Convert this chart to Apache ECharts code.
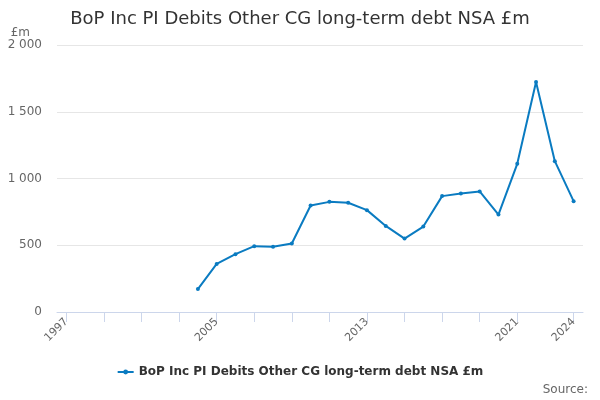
<!DOCTYPE html>
<html>
<head>
<meta charset="utf-8">
<script src="https://cdn.jsdelivr.net/npm/echarts@6/dist/echarts.min.js"></script>
<style>html,body{margin:0;padding:0;background:#fff}#c{width:600px;height:400px}</style>
</head>
<body>
<div id="c"></div>
<script>
const years = ['1997','1998','1999','2000','2001','2002','2003','2004','2005','2006','2007','2008','2009','2010','2011','2012','2013','2014','2015','2016','2017','2018','2019','2020','2021','2022','2023','2024'];
const values = [null,null,null,null,null,null,null,172,360,433,493,488,513,798,825,818,763,645,550,640,868,888,903,730,1110,1723,1130,830];
const labelYears = ['1997','2005','2013','2021','2024'];
const tickYears = ['1997','1999','2001','2003','2005','2007','2009','2011','2013','2015','2017','2019','2021','2024'];
const seriesName = 'BoP Inc PI Debits Other CG long-term debt NSA £m';

const chart = echarts.init(document.getElementById('c'), null, {renderer:'canvas'});
const font = 'DejaVu Sans, sans-serif';
chart.setOption({
  animation:false,
  textStyle:{fontFamily:font},
  title:{text:seriesName,left:'center',top:5,textStyle:{fontFamily:font,fontSize:18,fontWeight:'normal',color:'#333'}},
  grid:{left:57,right:17,top:45,bottom:88},
  legend:{bottom:17,left:'center',itemWidth:16,itemHeight:6,itemGap:5,
    textStyle:{fontFamily:font,fontSize:12,fontWeight:'bold',color:'#333'},data:[seriesName]},
  graphic:[{type:'text',right:12,top:384,style:{text:'Source:',fill:'#666',font:'12px DejaVu Sans, sans-serif'}}],
  xAxis:{type:'category',data:years,boundaryGap:true,
    axisLine:{show:true,lineStyle:{color:'#ccd6eb',width:1}},
    axisTick:{show:true,alignWithLabel:true,length:10,lineStyle:{color:'#ccd6eb',width:1},interval:function(i,v){return tickYears.indexOf(String(v))>=0;}},
    axisLabel:{rotate:45,color:'#666',fontSize:11,fontFamily:font,margin:8,interval:function(i,v){return labelYears.indexOf(String(v))>=0;}},
    splitLine:{show:false}},
  yAxis:{type:'value',min:0,max:2000,interval:500,
    name:'£m',nameLocation:'end',nameGap:6,nameTextStyle:{align:'right',padding:[0,27,0,0],color:'#666',fontSize:12,fontFamily:font},
    axisLine:{show:false},axisTick:{show:false},
    axisLabel:{color:'#666',fontSize:12,fontFamily:font,margin:15,formatter:v=>String(v).replace(/\B(?=(\d{3})+(?!\d))/g,' ')},
    splitLine:{lineStyle:{color:'#e6e6e6'}}},
  series:[{name:seriesName,type:'line',data:values,connectNulls:false,
    lineStyle:{color:'#0a7bc1',width:2},itemStyle:{color:'#0a7bc1'},
    symbol:'circle',symbolSize:4,showSymbol:true}]
});
</script>
</body>
</html>
